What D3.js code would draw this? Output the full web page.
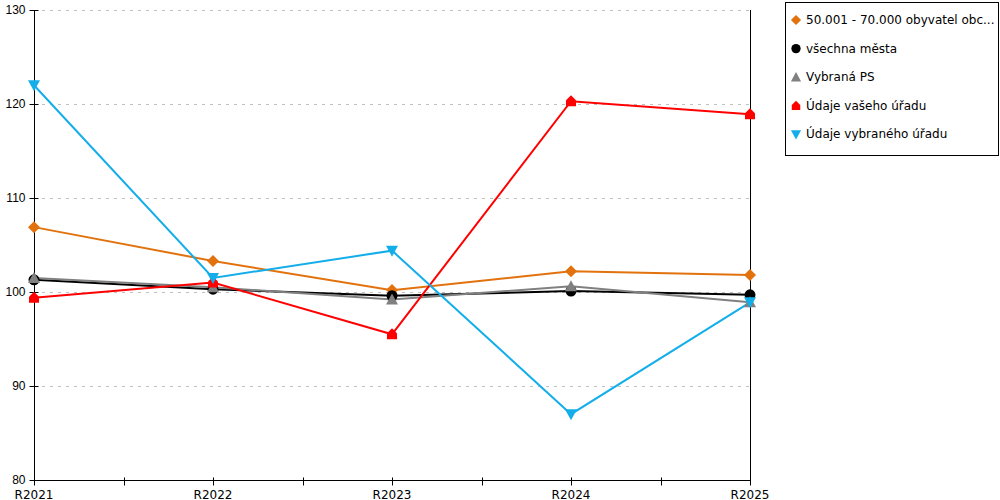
<!DOCTYPE html>
<html><head><meta charset="utf-8">
<script src="https://cdn.jsdelivr.net/npm/d3@7"></script>
<style>
body{margin:0;background:#fff;}
svg{display:block;font-family:"DejaVu Sans",Verdana,sans-serif;}
</style></head>
<body><svg id="c" width="1000" height="500"></svg>
<script>
const categories = ["R2021","R2022","R2023","R2024","R2025"];
const seriesNames = ["50.001 - 70.000 obyvatel obc...","všechna města","Vybraná PS","Údaje vašeho úřadu","Údaje vybraného úřadu"];
const seriesOrange = [106.9,103.3,100.2,102.2,101.8];
const seriesBlack  = [101.3,100.3,99.6,100.1,99.7];
const seriesGray   = [101.5,100.5,99.2,100.6,98.9];
const seriesRed    = [99.4,101.0,95.5,120.3,118.9];
const seriesBlue   = [122.0,101.5,104.4,87.0,98.9];
const yTicks = [80,90,100,110,120,130];
const colors = ["#e2720e","#000000","#808080","#ff0000","#13aeea"];
const markers = ["diamond","circle","triangle","house","down"];

const svg = d3.select("#c");
const x = d3.scalePoint().domain(categories).range([34,750]);
const y = d3.scaleLinear().domain([80,130]).range([480,10]);

// gridlines
svg.append("g").selectAll("line").data(yTicks.filter(t=>t>80)).join("line")
  .attr("x1",34).attr("x2",750).attr("y1",d=>y(d)+0.5).attr("y2",d=>y(d)+0.5)
  .attr("stroke","#c0c0c0").attr("stroke-dasharray","3,5");

// y axis
const ya = svg.append("g").attr("transform","translate(34.5,0)")
  .call(d3.axisLeft(y).tickValues(yTicks).tickSize(5).tickSizeInner(5).tickPadding(4));
ya.select(".domain").attr("d","M0,10V480");
ya.selectAll(".tick line").attr("x1",-5).attr("x2",4);
ya.selectAll("text").style("font-size","12px").attr("fill","#000");

// right line
svg.append("line").attr("x1",750.5).attr("x2",750.5).attr("y1",10).attr("y2",484).attr("stroke","#000");

// x axis
const step = x.step();
const xTickPos = [];
categories.forEach((c,i)=>{ xTickPos.push(x(c)); if(i<categories.length-1) xTickPos.push(x(c)+step/2); });
const xa = svg.append("g").attr("transform","translate(0,480.5)");
xa.append("line").attr("x1",34).attr("x2",750).attr("stroke","#000");
xa.selectAll("line.t").data(xTickPos).join("line").attr("class","t")
  .attr("x1",d=>Math.round(d)+0.5).attr("x2",d=>Math.round(d)+0.5).attr("y1",-3).attr("y2",5).attr("stroke","#000");
xa.selectAll("text").data(categories).join("text")
  .attr("x",d=>x(d)).attr("y",18).attr("text-anchor","middle").style("font-size","12px").text(d=>d);

const all = [seriesOrange,seriesBlack,seriesGray,seriesRed,seriesBlue];
const line = d3.line().x((d,i)=>x(categories[i])).y(d=>y(d));

function marker(g,type,color){
  if(type==="diamond") g.append("path").attr("d","M0,-6L6,0L0,6L-6,0Z").attr("fill",color);
  else if(type==="circle") g.append("circle").attr("r",5.5).attr("fill",color);
  else if(type==="triangle") g.append("path").attr("d","M0,-6L6,5L-6,5Z").attr("fill",color);
  else if(type==="house") g.append("path").attr("d","M0,-6L5,-1L5,5L-5,5L-5,-1Z").attr("fill",color);
  else if(type==="down") g.append("path").attr("d","M-6,-5L6,-5L0,6Z").attr("fill",color);
}

all.forEach((s,k)=>{
  svg.append("path").datum(s).attr("d",line).attr("fill","none").attr("stroke",colors[k]).attr("stroke-width",2);
});
all.forEach((s,k)=>{
  s.forEach((v,i)=>{
    const g = svg.append("g").attr("transform",`translate(${x(categories[i])},${y(v)})`);
    marker(g,markers[k],colors[k]);
  });
});

// legend
const lg = svg.append("g");
lg.append("rect").attr("x",785.5).attr("y",2.5).attr("width",213).attr("height",153).attr("fill","#fff").attr("stroke","#000");
seriesNames.forEach((n,k)=>{
  const yy = 20 + k*28.6;
  const g = lg.append("g").attr("transform",`translate(796,${yy}) scale(0.85)`);
  marker(g,markers[k],colors[k]);
  lg.append("text").attr("x",806).attr("y",yy+4).style("font-size","12px").text(n);
});
</script></body></html>
